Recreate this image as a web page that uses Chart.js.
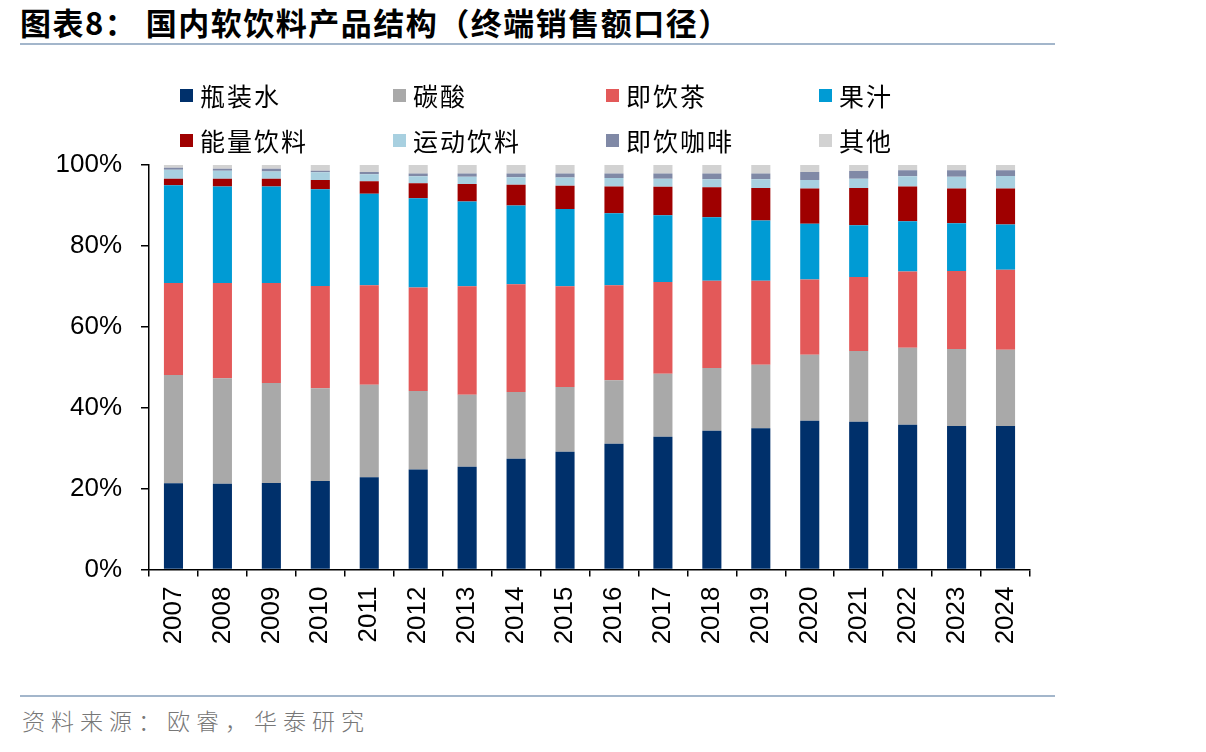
<!DOCTYPE html>
<html>
<head>
<meta charset="utf-8">
<script src="https://cdn.jsdelivr.net/npm/chart.js@4/dist/chart.umd.min.js"></script>
<style>
  html, body { margin: 0; padding: 0; background: #fff; }
  body { width: 1206px; height: 752px; position: relative; overflow: hidden; }
  #title {
    position: absolute; left: 20px; top: -1px;
    font-family: "Noto Sans CJK SC", sans-serif; font-weight: 700;
    font-size: 31px; color: #000; letter-spacing: 1.5px; white-space: nowrap;
  }
  .rule { position: absolute; left: 20px; width: 1035px; height: 2px; background: #a3b6cb; }
  #source {
    position: absolute; left: 22px; top: 703px;
    font-family: "Noto Sans CJK SC", sans-serif; font-weight: 300;
    font-size: 23px; color: #777; letter-spacing: 6px; white-space: nowrap;
  }
  #chart { position: absolute; left: 0; top: 0; }
  .leg { position: absolute; font-family: "Noto Sans CJK SC", sans-serif; font-size: 25px;
         color: #000; letter-spacing: 2px; white-space: nowrap; line-height: 30px; }
  .leg span.box { position: absolute; left: 0; top: 9px; width: 13px; height: 13px; }
  .leg span.txt { position: absolute; left: 20px; top: 0; }
</style>
</head>
<body>
<div id="title">图表8：&nbsp;国内软饮料产品结构（终端销售额口径）</div>
<div class="rule" style="top:43px"></div>
<div class="rule" style="top:695px"></div>
<div id="source">资料来源：欧睿，华泰研究</div>
<canvas id="chart" width="1206" height="752"></canvas>
<div id="legend"></div>

<script>
// Categories
const years = ['2007','2008','2009','2010','2011','2012','2013','2014','2015',
               '2016','2017','2018','2019','2020','2021','2022','2023','2024'];

// Shares (%)
const bottledWater = [21.3,21.2,21.4,21.9,22.8,24.7,25.4,27.4,29.1,31.1,32.8,34.3,34.9,36.8,36.5,35.8,35.5,35.5];
const carbonated   = [26.8,26.1,24.7,22.9,22.9,19.4,17.8,16.5,16.0,15.7,15.6,15.5,15.7,16.3,17.5,19.0,19.0,18.8];
const rtdTea       = [22.7,23.5,24.7,25.3,24.6,25.6,26.8,26.6,24.9,23.5,22.7,21.6,20.8,18.6,18.3,18.9,19.3,19.8];
const juice        = [24.2,23.9,23.9,23.9,22.6,22.1,21.0,19.5,19.1,17.8,16.5,15.7,14.9,13.8,12.8,12.4,11.8,11.2];
const energy       = [1.6,1.9,1.9,2.3,3.1,3.7,4.3,5.1,5.8,6.6,7.0,7.4,8.0,8.7,9.2,8.6,8.6,8.9];
const sports       = [2.2,2.0,1.8,1.9,1.7,1.7,1.8,1.9,2.0,2.1,2.0,2.0,2.2,2.1,2.3,2.5,2.9,3.1];
const rtdCoffee    = [0.5,0.5,0.7,0.4,0.6,0.7,0.8,0.9,1.0,1.1,1.3,1.4,1.4,2.0,1.9,1.5,1.6,1.4];
const others       = [0.7,0.9,0.9,1.4,1.7,2.1,2.1,2.1,2.1,2.1,2.1,2.1,2.1,1.7,1.5,1.3,1.3,1.3];

// Y axis ticks
const yTicks = [0, 20, 40, 60, 80, 100];

const series = [
    { label: '瓶装水',   data: bottledWater, color: '#00306b' },
    { label: '碳酸',     data: carbonated,   color: '#a9a9a9' },
    { label: '即饮茶',   data: rtdTea,       color: '#e35959' },
    { label: '果汁',     data: juice,        color: '#009bd4' },
    { label: '能量饮料', data: energy,       color: '#9f0000' },
    { label: '运动饮料', data: sports,       color: '#a8d0e0' },
    { label: '即饮咖啡', data: rtdCoffee,    color: '#8089a6' },
    { label: '其他',     data: others,       color: '#d2d2d2' }
];

// Legend (2 rows x 4)
const legend = document.getElementById('legend');
series.forEach((s, i) => {
    const item = document.createElement('div');
    item.className = 'leg';
    item.style.left = (180 + (i % 4) * 213) + 'px';
    item.style.top = (80 + Math.floor(i / 4) * 45) + 'px';
    item.innerHTML = `<span class="box" style="background:${s.color}"></span><span class="txt">${s.label}</span>`;
    legend.appendChild(item);
});

const tickFont = { family: '"Liberation Sans", Arial, sans-serif', size: 26 };

new Chart(document.getElementById('chart').getContext('2d'), {
    type: 'bar',
    data: {
        labels: years,
        datasets: series.map(s => ({
            label: s.label,
            data: s.data,
            backgroundColor: s.color,
            borderWidth: 0,
            categoryPercentage: 1,
            barPercentage: 0.39
        }))
    },
    options: {
        responsive: false,
        animation: false,
        layout: { padding: { top: 165, right: 176, left: 0, bottom: 0 } },
        plugins: { legend: { display: false }, tooltip: { enabled: false } },
        scales: {
            x: {
                stacked: true,
                afterFit: scale => { scale.height = 182.5; },
                grid: { offset: true, drawOnChartArea: false, color: '#000', tickLength: 7, lineWidth: 1.5 },
                border: { color: '#000', width: 1.5 },
                ticks: { minRotation: 90, maxRotation: 90, autoSkip: false, padding: 10, color: '#000', font: tickFont }
            },
            y: {
                stacked: true,
                min: 0,
                max: 100,
                afterFit: scale => { scale.width = 149; },
                afterBuildTicks: scale => { scale.ticks = yTicks.map(v => ({ value: v })); },
                grid: { drawOnChartArea: false, color: '#000', tickLength: 8, lineWidth: 1.5 },
                border: { color: '#000', width: 1.5 },
                ticks: { padding: 19, color: '#000', font: tickFont, callback: v => v + '%' }
            }
        }
    }
});
</script>
</body>
</html>
